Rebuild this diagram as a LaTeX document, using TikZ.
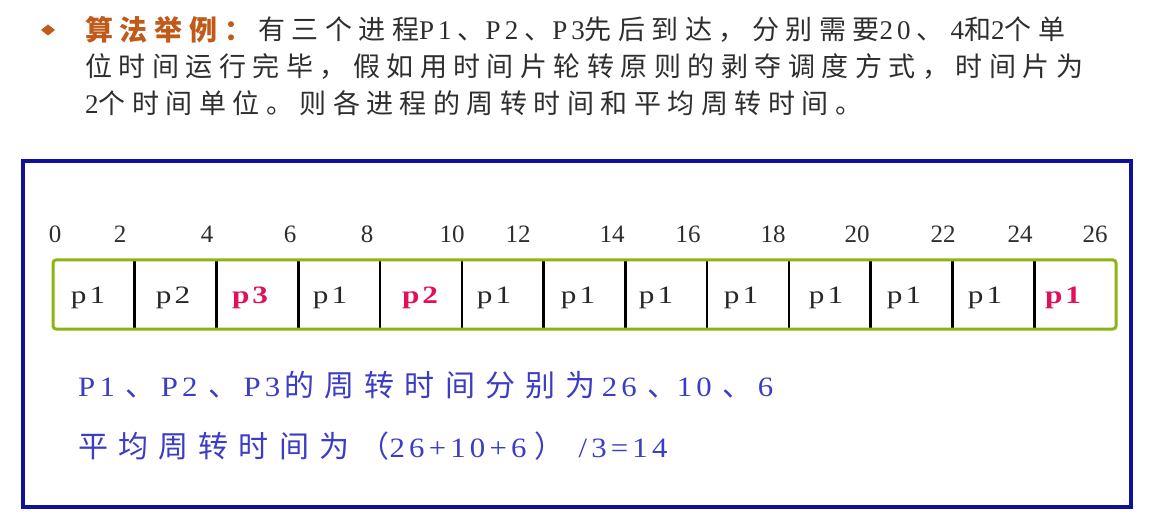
\documentclass[tikz,border=0pt]{standalone}
\usepackage{fontspec}
\setmainfont{Liberation Serif}
\newfontfamily\zhA{Noto Sans CJK SC}[LetterSpace=24]
\newfontfamily\zhB{Noto Sans CJK SC}[LetterSpace=34]
\newfontfamily\ltA{Liberation Serif}[LetterSpace=15]
\newfontfamily\ltB{Liberation Serif}[LetterSpace=15,FakeStretch=1.1]
\newfontfamily\ltL{Liberation Serif}[LetterSpace=12,FakeStretch=1.25]
\newcommand\zc[1]{{\zhA #1}}
\newcommand\lt[1]{{\ltA #1}}
\newcommand\zb[1]{{\zhB\fontsize{30}{30}\selectfont #1}}
\newcommand\lb[1]{{\ltB\fontsize{28}{28}\selectfont #1}}
\newcommand\dA[1]{\makebox[#1][l]{\hspace{6pt}\zhA 、}}
\newcommand\dB[1]{\makebox[#1][l]{\hspace{11pt}\zhB\fontsize{30}{30}\selectfont 、}}
\definecolor{framec}{HTML}{10109A}
\definecolor{barc}{HTML}{8CB414}
\definecolor{redc}{HTML}{E0105A}
\definecolor{brownc}{HTML}{C05A18}
\definecolor{textc}{HTML}{2E2E2E}
\definecolor{bluet}{HTML}{3C3CC4}
\tikzset{
  toptext/.style={anchor=west, inner sep=0pt, text=textc, font=\fontsize{27}{27}\selectfont},
  bottext/.style={anchor=west, inner sep=0pt, text=bluet},
  tick/.style={inner sep=0pt, text=textc, font=\fontsize{25}{25}\selectfont},
  lab/.style={inner sep=0pt, text=black!85, font=\ltL\fontsize{25}{25}\selectfont},
  hot/.style={lab, text=redc, font=\ltL\fontsize{25}{25}\selectfont\bfseries},
  divider/.style={line width=2.6pt, black}
}
\begin{document}
\begin{tikzpicture}[x=1pt,y=-1pt]
\useasboundingbox (0,0) rectangle (1151,521);
% bullet
\fill[brownc] (41,30) -- (48,24.5) -- (55,30) -- (48,35.5) -- cycle;
\node[toptext, text=brownc, font=\fontsize{28}{28}\selectfont\bfseries] (title) at (85,30) {\zc{算法举例：}};
\node[toptext] (l1) at (258,30) {\zc{有三个进程}\lt{P1}\dA{34pt}\lt{P2}\dA{34pt}\lt{P3}\zc{先后到达，分别需要}\lt{20}\dA{40pt}\lt{4}\zc{和}\lt{2}\zc{个单}};
\node[toptext] (l2) at (85,66) {\zc{位时间运行完毕，假如用时间片轮转原则的剥夺调度方式，时间片为}};
\node[toptext] (l3) at (85,103) {\lt{2}\zc{个时间单位。则各进程的周转时间和平均周转时间。}};
% frame
\draw[line width=4pt, framec] (23,161) rectangle (1131,507);
% bar
\foreach \k in {1,...,12} \draw[divider] ({53+81.77*\k},260) -- ({53+81.77*\k},329);
\draw[line width=3pt, barc, rounded corners=3pt] (53,260) rectangle (1116,329);
% ticks
\foreach \v/\x [count=\i] in {0/55,2/120,4/207,6/290,8/367,10/452,12/518,14/612,16/688,18/773,20/857,22/943,24/1020,26/1095}
  \node[tick] (t\i) at (\x,234) {\v};
% labels
\node[lab] (c1) at (88,298) {p1};
\node[lab] (c2) at (173,298) {p2};
\node[hot] (c3) at (250,298) {p3};
\node[lab] (c4) at (330,298) {p1};
\node[hot] (c5) at (420,298) {p2};
\node[lab] (c6) at (494,298) {p1};
\node[lab] (c7) at (578,298) {p1};
\node[lab] (c8) at (656,298) {p1};
\node[lab] (c9) at (741,298) {p1};
\node[lab] (c10) at (826,298) {p1};
\node[lab] (c11) at (904,298) {p1};
\node[lab] (c12) at (985,298) {p1};
\node[hot] (c13) at (1063,298) {p1};
% results
\node[bottext] (r1) at (78,385) {\lb{P1}\dB{46pt}\lb{P2}\dB{46pt}\lb{P3}\hspace{4pt}\zb{的周转时间分别为}\hspace{6pt}\lb{26}\dB{40pt}\lb{10}\dB{46pt}\lb{6}};
\node[bottext] (r2) at (78,446) {\zb{平均周转时间为（}\lb{26+10+6}\makebox[52pt][l]{\hspace{8pt}\zb{）}}\lb{/3=14}};
\end{tikzpicture}
\end{document}
